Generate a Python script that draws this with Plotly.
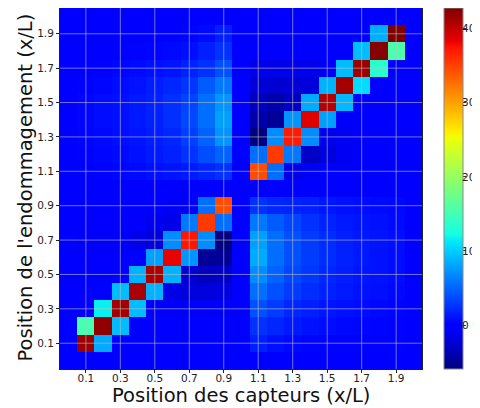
import plotly.graph_objects as go

# Positions (x/L) of the grid cells: 0.0 .. 2.0
positions = [0.0, 0.1, 0.2, 0.3, 0.4, 0.5, 0.6, 0.7, 0.8, 0.9, 1.0,
             1.1, 1.2, 1.3, 1.4, 1.5, 1.6, 1.7, 1.8, 1.9, 2.0]

# Tick values / labels
tick_vals = [0.1, 0.3, 0.5, 0.7, 0.9, 1.1, 1.3, 1.5, 1.7, 1.9]
tick_text = ["0.1", "0.3", "0.5", "0.7", "0.9", "1.1", "1.3", "1.5", "1.7", "1.9"]
cbar_vals = [0, 10, 20, 30, 40]
cbar_text = ["0", "10", "20", "30", "40"]

x_title = "Position des capteurs (x/L)"
y_title = "Position de l'endommagement (x/L)"

# Rows: damage position (y = 0.0 .. 2.0); columns: sensor position (x = 0.0 .. 2.0)
row_00 = [0]*21
row_01 = [0, 41.5, 8.3, 0, 0, 0, 0, 0, 0, 0, 0, 1.6, 0.9, 0.5, 0.3, 0.2, 0.2, 0.2, 0.2, 0.2, 0]
row_02 = [0, 15.3, 42.0, 9.2, -0.3, -0.3, -0.3, -0.3, -0.3, -0.3, 0, 2.5, 2.0, 1.3, 1.0, 0.7, 0.5, 0.4, 0.3, 0.2, 0]
row_03 = [0, -0.5, 11.6, 41.2, 9.2, -0.8, -0.8, -0.8, -0.8, -0.8, 0, 4.0, 3.0, 2.0, 1.6, 1.2, 0.9, 0.7, 0.5, 0.3, 0]
row_04 = [0, -0.5, -0.5, 9.2, 40.9, 8.7, -1.7, -2.0, -2.0, -1.8, 0, 5.4, 4.0, 3.0, 2.3, 1.7, 1.3, 1.0, 0.8, 0.5, 0]
row_05 = [0, -0.6, -0.6, -0.6, 8.7, 40.9, 8.7, -2.5, -3.3, -2.9, 0, 6.9, 4.9, 3.5, 2.8, 2.0, 1.5, 1.2, 1.0, 0.7, 0]
row_06 = [0, -0.7, -0.7, -0.7, -0.7, 7.8, 38.3, 7.3, -4.9, -4.9, 0, 8.3, 5.4, 4.0, 3.0, 2.3, 1.7, 1.3, 1.0, 0.7, 0]
row_07 = [0, -0.8, -0.8, -0.8, -1.5, -2.0, 6.9, 37.2, 6.9, -5.9, 0, 7.8, 5.4, 4.0, 3.0, 2.3, 1.6, 1.3, 1.1, 0.8, 0]
row_08 = [0, -0.7, -0.7, -0.7, -0.7, -1.2, -1.5, 5.9, 35.4, 5.4, 0, 5.9, 4.5, 3.5, 2.5, 1.8, 1.3, 1.1, 0.9, 0.6, 0]
row_09 = [0, -0.4, -0.4, -0.4, -0.4, -0.4, -0.8, -1.0, 5.4, 34.4, 0, 2.5, 2.0, 1.8, 1.6, 1.2, 0.9, 0.7, 0.6, 0.5, 0]
row_10 = [0]*21
row_11 = [0, 0.1, 0.2, 0.4, 0.6, 0.9, 1.1, 1.4, 1.9, 2.5, 0, 34.4, 5.4, -1.5, -1.0, -0.5, -0.3, -0.3, -0.3, -0.3, 0]
row_12 = [0, 0.2, 0.4, 0.6, 0.9, 1.3, 1.7, 2.6, 3.8, 4.9, 0, 5.4, 35.4, 5.9, -2.9, -2.0, -1.0, -0.4, -0.4, -0.4, 0]
row_13 = [0, 0.3, 0.5, 0.8, 1.1, 1.5, 2.0, 3.2, 4.9, 7.3, 0, -5.9, 6.9, 37.0, 6.9, -1.5, -1.0, -0.7, -0.5, -0.3, 0]
row_14 = [0, 0.4, 0.7, 0.9, 1.3, 1.7, 2.4, 3.6, 5.4, 7.8, 0, -4.1, -4.9, 7.3, 38.7, 7.8, -0.8, -0.5, -0.4, -0.3, 0]
row_15 = [0, 0.4, 0.7, 0.9, 1.3, 1.7, 2.4, 3.4, 5.4, 7.3, 0, -3.3, -4.0, -3.0, 8.3, 40.5, 9.0, -0.6, -0.4, -0.3, 0]
row_16 = [0, 0.2, 0.4, 0.7, 1.0, 1.5, 2.0, 2.7, 4.5, 5.9, 0, -2.3, -2.5, -2.3, -2.0, 8.7, 41.2, 10.7, -0.3, -0.2, 0]
row_17 = [0, 0.1, 0.2, 0.4, 0.6, 0.9, 1.1, 1.8, 2.5, 4.0, 0, -1.5, -1.5, -1.5, -1.3, -1.0, 9.2, 41.5, 13.5, -0.2, 0]
row_18 = [0, 0.1, 0.1, 0.1, 0.2, 0.3, 0.5, 0.8, 1.6, 2.5, 0, -0.5, -0.5, -0.5, -0.5, -0.5, -0.5, 9.2, 42.4, 15.5, 0]
row_19 = [0, 0, 0, 0, 0, 0, 0, 0.3, 0.6, 1.6, 0, -0.2, -0.2, -0.2, -0.2, -0.2, -0.2, -0.2, 8.5, 42.7, 0]
row_20 = [0]*21

z = [row_00, row_01, row_02, row_03, row_04, row_05, row_06, row_07, row_08, row_09, row_10,
     row_11, row_12, row_13, row_14, row_15, row_16, row_17, row_18, row_19, row_20]

zmin = min(min(r) for r in z)
zmax = max(max(r) for r in z)

# matplotlib "jet"
jet = [
    [0.0, "rgb(0,0,128)"], [0.11, "rgb(0,0,255)"], [0.125, "rgb(0,0,255)"],
    [0.34, "rgb(0,219,255)"], [0.35, "rgb(0,230,247)"], [0.375, "rgb(21,255,226)"],
    [0.64, "rgb(239,255,8)"], [0.65, "rgb(247,245,0)"], [0.66, "rgb(255,236,0)"],
    [0.89, "rgb(255,19,0)"], [0.91, "rgb(232,0,0)"], [1.0, "rgb(128,0,0)"],
]

font = "DejaVu Sans, sans-serif"

fig = go.Figure(go.Heatmap(
    x=positions, y=positions, z=z, zmin=zmin, zmax=zmax,
    colorscale=jet,
    colorbar=dict(
        tickvals=cbar_vals, ticks="outside", ticklen=3, tickwidth=1, tickcolor="#333",
        showticklabels=False,
        thickness=19, len=1, lenmode="fraction", y=0.5, yanchor="middle",
        x=1.0608, xanchor="left", xpad=0, ypad=0,
        outlinewidth=1, outlinecolor="#888",
    ),
))

grid_color = "rgba(190,190,190,0.6)"
shapes = []
for v in tick_vals:
    shapes.append(dict(type="line", xref="x", yref="paper", x0=v, x1=v, y0=0, y1=1,
                       line=dict(color=grid_color, width=1), layer="above"))
    shapes.append(dict(type="line", xref="paper", yref="y", x0=0, x1=1, y0=v, y1=v,
                       line=dict(color=grid_color, width=1), layer="above"))

axis_common = dict(
    tickvals=tick_vals, ticktext=tick_text, ticks="outside", ticklen=3, tickwidth=1,
    tickcolor="#222", tickfont=dict(family=font, size=10.5, color="#222"),
    showgrid=False, zeroline=False, showline=True, mirror=True,
    linecolor="#222", linewidth=1, automargin=False,
)

annotations = [
    dict(text=x_title, xref="paper", yref="paper", x=0.5, y=0, yshift=-26,
         xanchor="center", yanchor="middle", showarrow=False,
         font=dict(family=font, size=19.5, color="#111")),
    dict(text=y_title, xref="paper", yref="paper", x=0, y=0.5, xshift=-35, yshift=1,
         xanchor="center", yanchor="middle", showarrow=False, textangle=-90,
         font=dict(family=font, size=19.5, color="#111")),
]
# colour-bar tick labels, placed on the colour scale (bar spans the full plot height)
for v, t in zip(cbar_vals, cbar_text):
    annotations.append(dict(text=t, xref="paper", yref="paper",
                            x=1.0608, xshift=17, y=(v - zmin) / (zmax - zmin),
                            xanchor="left", yanchor="middle", showarrow=False,
                            borderpad=0, font=dict(family=font, size=10.5, color="#222")))

# page body has an 8px margin: the figure is shrunk by 8px and margins adjusted
fig.update_layout(
    width=472, height=400,
    margin=dict(l=52, r=58, t=0, b=39, autoexpand=False),
    paper_bgcolor="white", plot_bgcolor="white",
    font=dict(family=font, color="#111"),
    shapes=shapes, annotations=annotations,
    xaxis=dict(range=[-0.05, 2.05], ticklabelstandoff=-4, **axis_common),
    yaxis=dict(range=[-0.05, 2.05], **axis_common),
)

fig.write_html("out.html")
